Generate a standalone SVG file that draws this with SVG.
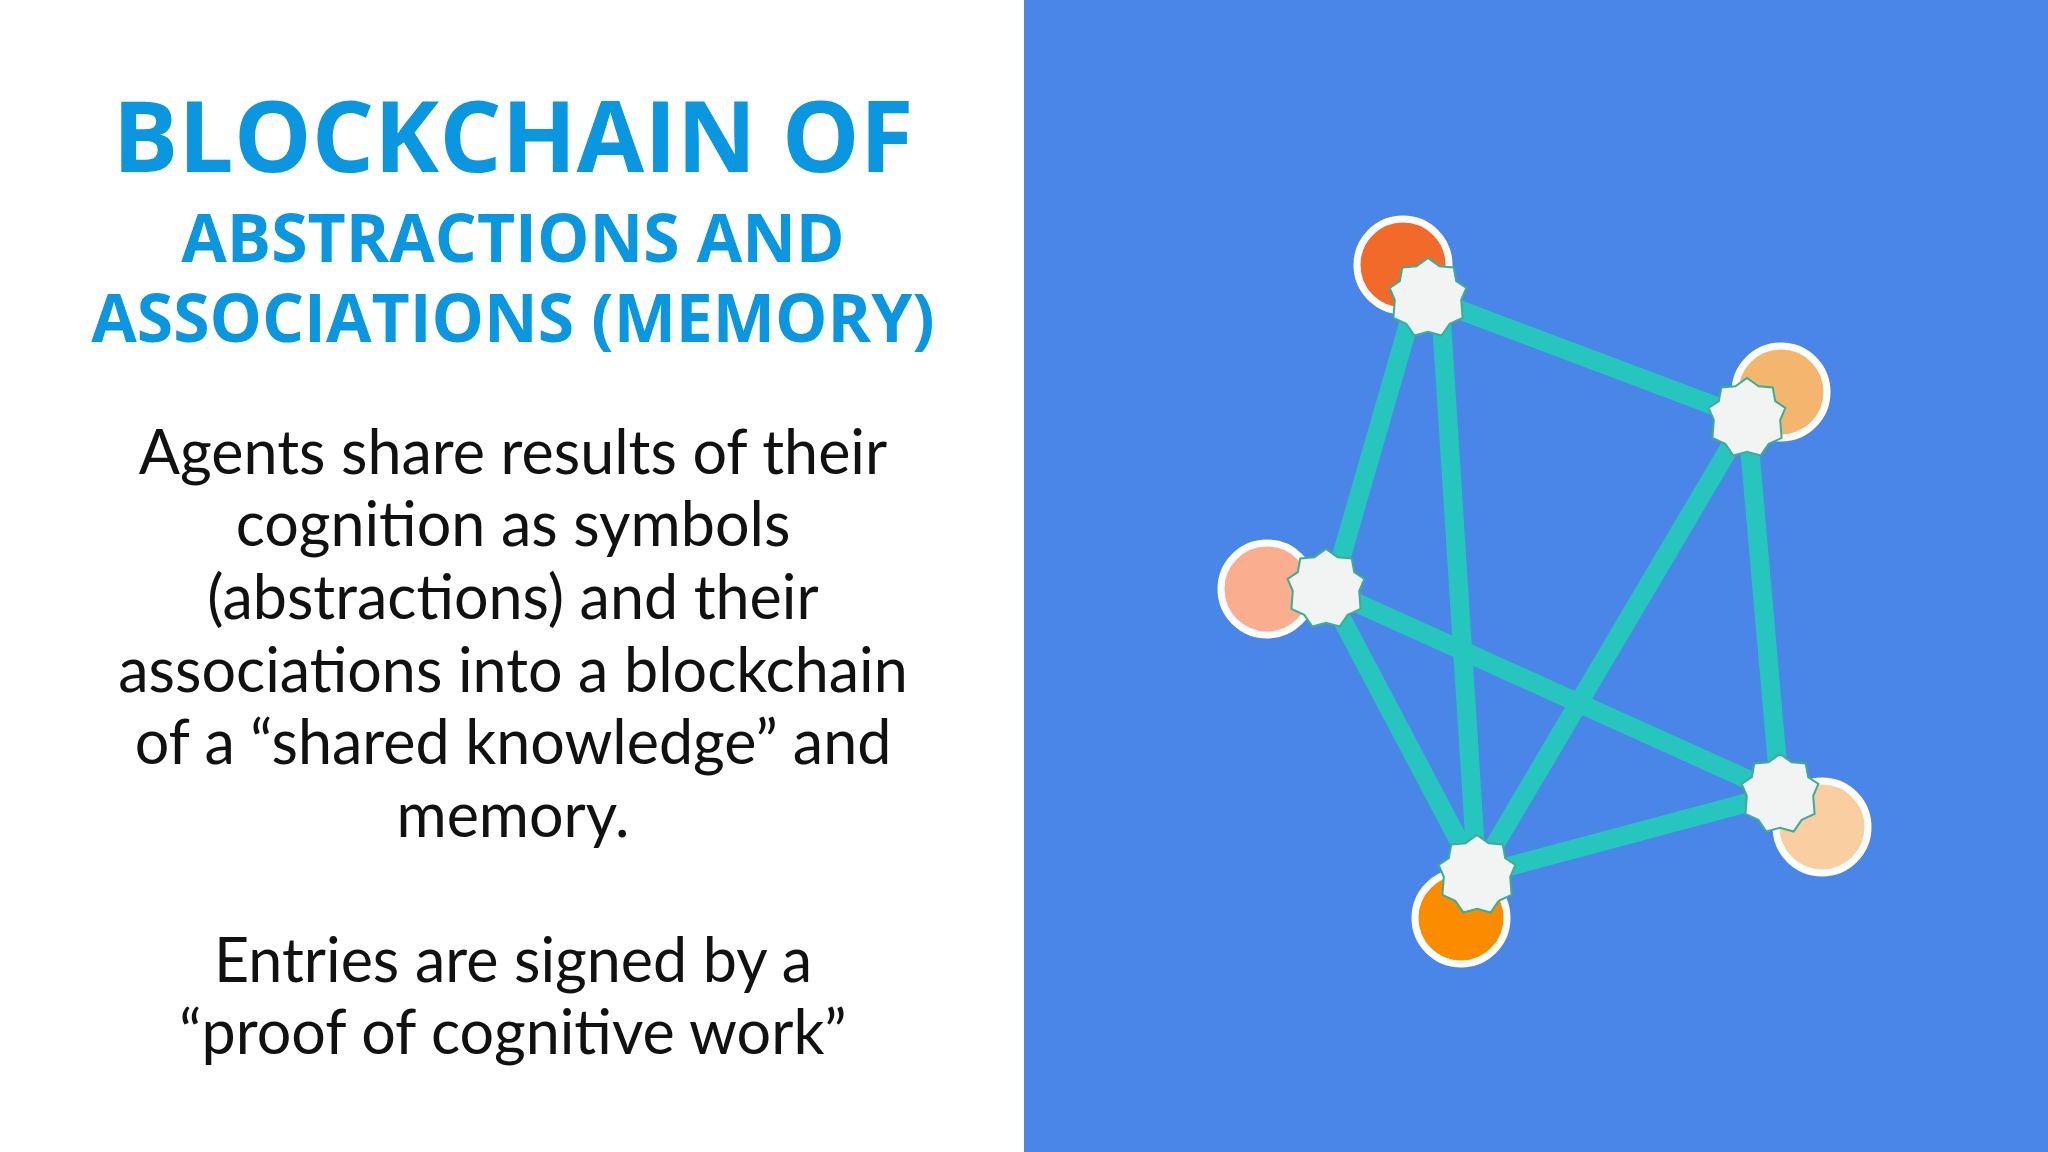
<svg xmlns="http://www.w3.org/2000/svg" width="2048" height="1152" viewBox="0 0 2048 1152">
<defs>
<style>
.t{font-family:"Open Sans","Liberation Sans",sans-serif;font-weight:700;fill:#0B96E0;text-anchor:middle}
.b{font-family:Lato,"Open Sans","Liberation Sans",sans-serif;font-size:61px;fill:#111;text-anchor:middle}
.e line{stroke:#26C6BE;stroke-width:19}
.c{stroke:#fff;stroke-width:7}
.s{fill:#F2F3F3;stroke:#3BAE94;stroke-width:2}
</style>
<polygon id="star" points="0,-40 11.6,-31.8 25.7,-30.6 28.2,-16.9 38.4,-10.2 33.2,2 34.6,20 21.7,25.9 13.6,37.5 0,33.8 -13.6,37.5 -21.7,25.9 -34.6,20 -33.2,2 -38.4,-10.2 -28.2,-16.9 -25.7,-30.6 -11.6,-31.8"/>
</defs>
<rect width="2048" height="1152" fill="#fff"/>
<rect x="1024" y="0" width="1024" height="1152" fill="#4A86E8"/>
<g id="title">
<text class="t" x="513" y="172" font-size="98">BLOCKCHAIN OF</text>
<text class="t" x="513" y="262" font-size="66">ABSTRACTIONS AND</text>
<text class="t" x="513" y="342" font-size="66">ASSOCIATIONS (MEMORY)</text>
</g>
<g id="body">
<text class="b" x="513" y="474">Agents share results of their</text>
<text class="b" x="513" y="546">cognition as symbols</text>
<text class="b" x="513" y="619">(abstractions) and their</text>
<text class="b" x="513" y="692">associations into a blockchain</text>
<text class="b" x="513" y="764">of a “shared knowledge” and</text>
<text class="b" x="513" y="837">memory.</text>
<text class="b" x="513" y="982">Entries are signed by a</text>
<text class="b" x="513" y="1054">“proof of cognitive work”</text>
</g>
<g id="circles">
<circle class="c" cx="1403" cy="265" r="46" fill="#F26A2A"/>
<circle class="c" cx="1781" cy="392" r="46" fill="#F4B56E"/>
<circle class="c" cx="1267" cy="589" r="46" fill="#FBAE8F"/>
<circle class="c" cx="1822" cy="827" r="46" fill="#F9CFA2"/>
<circle class="c" cx="1461" cy="918" r="46" fill="#FB8C00"/>
</g>
<g id="connectors" class="e">
<line x1="1428" y1="298" x2="1747" y2="418"/>
<line x1="1416" y1="298" x2="1332" y2="589"/>
<line x1="1440" y1="298" x2="1477" y2="875"/>
<line x1="1747" y1="418" x2="1477" y2="875"/>
<line x1="1747" y1="418" x2="1780" y2="794"/>
<line x1="1326" y1="589" x2="1780" y2="794"/>
<line x1="1326" y1="589" x2="1477" y2="875"/>
<line x1="1477" y1="875" x2="1780" y2="794"/>
</g>
<g id="n1"><use href="#star" class="s" x="1428" y="298"/></g>
<g id="n2"><use href="#star" class="s" x="1747" y="418"/></g>
<g id="n3"><use href="#star" class="s" x="1326" y="589"/></g>
<g id="n4"><use href="#star" class="s" x="1780" y="794"/></g>
<g id="n5"><use href="#star" class="s" x="1477" y="875"/></g>
</svg>
